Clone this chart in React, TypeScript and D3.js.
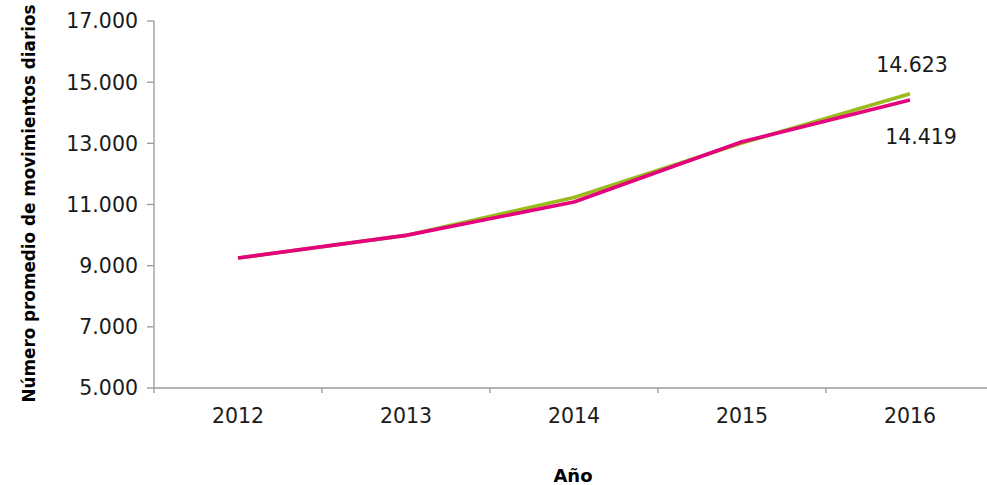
import React from "react";
import * as d3 from "d3";

const years = ["2012", "2013", "2014", "2015", "2016"];
const seriesGreen = [9250, 9990, 11230, 13010, 14623];
const seriesPink = [9250, 9990, 11080, 13050, 14419];
const yTicks = [5000, 7000, 9000, 11000, 13000, 15000, 17000];
const endLabels = ["14.623", "14.419"];

const W = 987;
const H = 485;
const left = 154;
const right = 994;
const top = 21;
const bottom = 388;

const fmt = (v: number) => d3.format(",")(v).replace(/,/g, ".");

export default function App() {
  const x = d3.scaleBand<string>().domain(years).range([left, right]).padding(0);
  const y = d3.scaleLinear().domain([5000, 17000]).range([bottom, top]);
  const cx = (yr: string) => (x(yr) as number) + x.bandwidth() / 2;
  const line = d3
    .line<number>()
    .x((_, i) => cx(years[i]))
    .y((d) => y(d));
  const font = "'DejaVu Sans', sans-serif";
  const axisColor = "#9a9a9a";
  const last = years[years.length - 1];
  const tickFs = 20.5;
  return (
    <svg
      width={W}
      height={H}
      style={{ position: "absolute", left: 0, top: 0, background: "#fff" }}
      fontFamily={font}
    >
      {/* y axis */}
      <line x1={left} x2={left} y1={top} y2={bottom} stroke={axisColor} strokeWidth={1.3} />
      {yTicks.map((t) => (
        <g key={t}>
          <line x1={left - 7} x2={left} y1={y(t)} y2={y(t)} stroke={axisColor} strokeWidth={1.3} />
          <text x={left - 16} y={y(t)} dy="0.36em" textAnchor="end" fontSize={tickFs} fill="#1a1a1a">
            {fmt(t)}
          </text>
        </g>
      ))}
      {/* x axis */}
      <line x1={left} x2={W} y1={bottom} y2={bottom} stroke={axisColor} strokeWidth={1.3} />
      {years.map((yr) => (
        <g key={yr}>
          <line
            x1={x(yr) as number}
            x2={x(yr) as number}
            y1={bottom}
            y2={bottom + 5}
            stroke={axisColor}
            strokeWidth={1.3}
          />
          <text x={cx(yr)} y={423} textAnchor="middle" fontSize={tickFs} fill="#1a1a1a">
            {yr}
          </text>
        </g>
      ))}
      {/* lines */}
      <path d={line(seriesGreen) || ""} fill="none" stroke="#9bbb1c" strokeWidth={3.6} strokeLinejoin="round" />
      <path d={line(seriesPink) || ""} fill="none" stroke="#e5007d" strokeWidth={3.6} strokeLinejoin="round" />
      {/* end labels */}
      <text x={cx(last) + 2} y={72} textAnchor="middle" fontSize={tickFs} fill="#1a1a1a">
        {endLabels[0]}
      </text>
      <text x={cx(last) + 11} y={144} textAnchor="middle" fontSize={tickFs} fill="#1a1a1a">
        {endLabels[1]}
      </text>
      {/* titles */}
      <text x={573} y={482} textAnchor="middle" fontSize={18} fontWeight="bold" fill="#000">
        Año
      </text>
      <text
        transform={`translate(35, ${(top + bottom) / 2 - 1}) rotate(-90)`}
        textAnchor="middle"
        fontSize={16.8}
        fontWeight="bold"
        fill="#000"
      >
        Número promedio de movimientos diarios
      </text>
    </svg>
  );
}
